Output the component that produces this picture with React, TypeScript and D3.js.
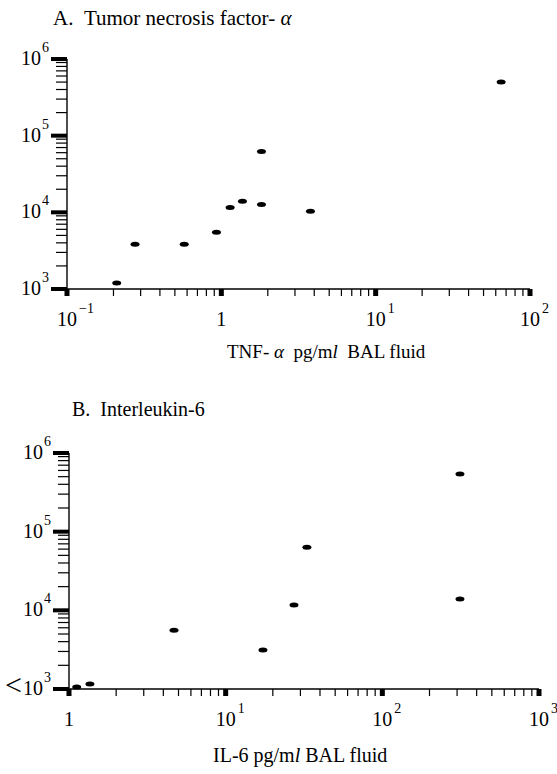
import React, { useEffect, useRef } from "react";
import * as d3 from "d3";

// panel A: TNF-alpha (pg/ml BAL fluid) vs y value
const tnfX = [0.21, 0.276, 0.575, 0.93, 1.14, 1.37, 1.82, 1.82, 3.78, 65];
const tnfY = [1200, 3840, 3840, 5500, 11600, 13900, 12700, 62000, 10300, 502000];

// panel B: IL-6 (pg/ml BAL fluid)
const il6X = [1.12, 1.36, 4.68, 17.3, 27.3, 33, 313, 313];
const il6Y = [1060, 1160, 5600, 3130, 11700, 63500, 540000, 13900];

const tnfXTicks = [
  { v: 0.1, base: "10", sup: "\u22121" },
  { v: 1, base: "1", sup: "" },
  { v: 10, base: "10", sup: "1" },
  { v: 100, base: "10", sup: "2" },
];
const il6XTicks = [
  { v: 1, base: "1", sup: "" },
  { v: 10, base: "10", sup: "1" },
  { v: 100, base: "10", sup: "2" },
  { v: 1000, base: "10", sup: "3" },
];
const tnfYTicks = [
  { v: 1e3, pre: "", base: "10", sup: "3" },
  { v: 1e4, pre: "", base: "10", sup: "4" },
  { v: 1e5, pre: "", base: "10", sup: "5" },
  { v: 1e6, pre: "", base: "10", sup: "6" },
];
const il6YTicks = [
  { v: 1e3, pre: "<", base: "10", sup: "3" },
  { v: 1e4, pre: "", base: "10", sup: "4" },
  { v: 1e5, pre: "", base: "10", sup: "5" },
  { v: 1e6, pre: "", base: "10", sup: "6" },
];

const FONT = "'Liberation Serif', 'DejaVu Serif', serif";

const isDecade = (t) => Math.abs(Math.log10(t) - Math.round(Math.log10(t))) < 1e-9;

function txt(g, x, y, size) {
  return g.append("text")
    .attr("x", x).attr("y", y)
    .style("font-family", FONT)
    .style("font-size", size + "px")
    .attr("fill", "#000");
}

function drawPanel(g, opts) {
  const { xs, ys, xDomain, xRange, yRange, xTicks, yTicks } = opts;
  const x = d3.scaleLog().domain(xDomain).range(xRange);
  const y = d3.scaleLog().domain([1e3, 1e6]).range(yRange);
  const x0 = xRange[0];
  const y0 = yRange[0];

  // axis lines
  g.append("line")
    .attr("x1", x0).attr("x2", x0)
    .attr("y1", yRange[0]).attr("y2", yRange[1])
    .attr("stroke", "#000").attr("stroke-width", 1.4);
  g.append("line")
    .attr("x1", xRange[0]).attr("x2", xRange[1])
    .attr("y1", y0).attr("y2", y0)
    .attr("stroke", "#000").attr("stroke-width", 1.4);

  // y ticks (outside, to the left)
  y.ticks().forEach((t) => {
    if (isDecade(t)) {
      g.append("rect")
        .attr("x", x0 - 16).attr("y", y(t) - 2)
        .attr("width", 16).attr("height", 4)
        .attr("fill", "#000");
    } else {
      g.append("line")
        .attr("x1", x0 - 11).attr("x2", x0)
        .attr("y1", y(t)).attr("y2", y(t))
        .attr("stroke", "#000").attr("stroke-width", 1.2);
    }
  });

  // x ticks (downward)
  x.ticks().forEach((t) => {
    if (isDecade(t)) {
      g.append("rect")
        .attr("x", x(t) - 2.5).attr("y", y0)
        .attr("width", 5).attr("height", 7)
        .attr("fill", "#000");
    } else {
      g.append("line")
        .attr("x1", x(t)).attr("x2", x(t))
        .attr("y1", y0).attr("y2", y0 + 7)
        .attr("stroke", "#000").attr("stroke-width", 1.2);
    }
  });

  // x tick labels: base centred on tick, superscript to the right
  xTicks.forEach((d) => {
    txt(g, x(d.v), y0 + 37, 20).attr("text-anchor", "middle").text(d.base);
    if (d.sup) {
      txt(g, x(d.v) + 12, y0 + 24, 14).text(d.sup);
    }
  });

  // y tick labels
  yTicks.forEach((d) => {
    const yy = y(d.v) + 6;
    txt(g, x0 - 26, yy, 20).attr("text-anchor", "end").text(d.base);
    if (d.pre) {
      txt(g, x0 - 47, yy, 30).attr("text-anchor", "end").text(d.pre);
    }
    txt(g, x0 - 25, yy - 13, 14).text(d.sup);
  });

  // points
  g.selectAll(".pt")
    .data(xs.map((v, i) => [v, ys[i]]))
    .join("ellipse")
    .attr("class", "pt")
    .attr("cx", (d) => x(d[0]))
    .attr("cy", (d) => y(d[1]))
    .attr("rx", 4.5)
    .attr("ry", 2.5)
    .attr("fill", "#000");
}

const App = () => {
  const svgRef = useRef(null);

  useEffect(() => {
    const svg = d3.select(svgRef.current);
    svg.selectAll("*").remove();

    const top = svg.append("g");
    drawPanel(top, {
      xs: tnfX, ys: tnfY,
      xDomain: [0.1, 100], xRange: [67, 530], yRange: [289, 59],
      xTicks: tnfXTicks, yTicks: tnfYTicks,
    });

    const bottom = svg.append("g");
    drawPanel(bottom, {
      xs: il6X, ys: il6Y,
      xDomain: [1, 1000], xRange: [69, 539], yRange: [689, 453],
      xTicks: il6XTicks, yTicks: il6YTicks,
    });

    // titles
    const titleA = txt(svg, 53, 25, 21);
    titleA.append("tspan").text("A.\u00a0\u00a0Tumor necrosis factor-\u00a0");
    titleA.append("tspan").style("font-style", "italic").text("\u03b1");

    const labA = txt(svg, 227, 358, 19);
    labA.append("tspan").text("TNF-\u00a0");
    labA.append("tspan").style("font-style", "italic").text("\u03b1");
    labA.append("tspan").text("\u00a0\u00a0pg/m");
    labA.append("tspan").style("font-style", "italic").text("l");
    labA.append("tspan").text("\u00a0\u00a0BAL fluid");

    txt(svg, 72, 416, 20).text("B.\u00a0\u00a0Interleukin-6");

    const labB = txt(svg, 213, 762, 20);
    labB.append("tspan").text("IL-6 pg/m");
    labB.append("tspan").style("font-style", "italic").text("l");
    labB.append("tspan").text(" BAL fluid");
  }, []);

  return (
    <div style={{ position: "absolute", left: 0, top: 0, fontFamily: FONT }}>
      <svg ref={svgRef} width={557} height={774} style={{ display: "block", background: "#fff" }}></svg>
    </div>
  );
};

export default App;
